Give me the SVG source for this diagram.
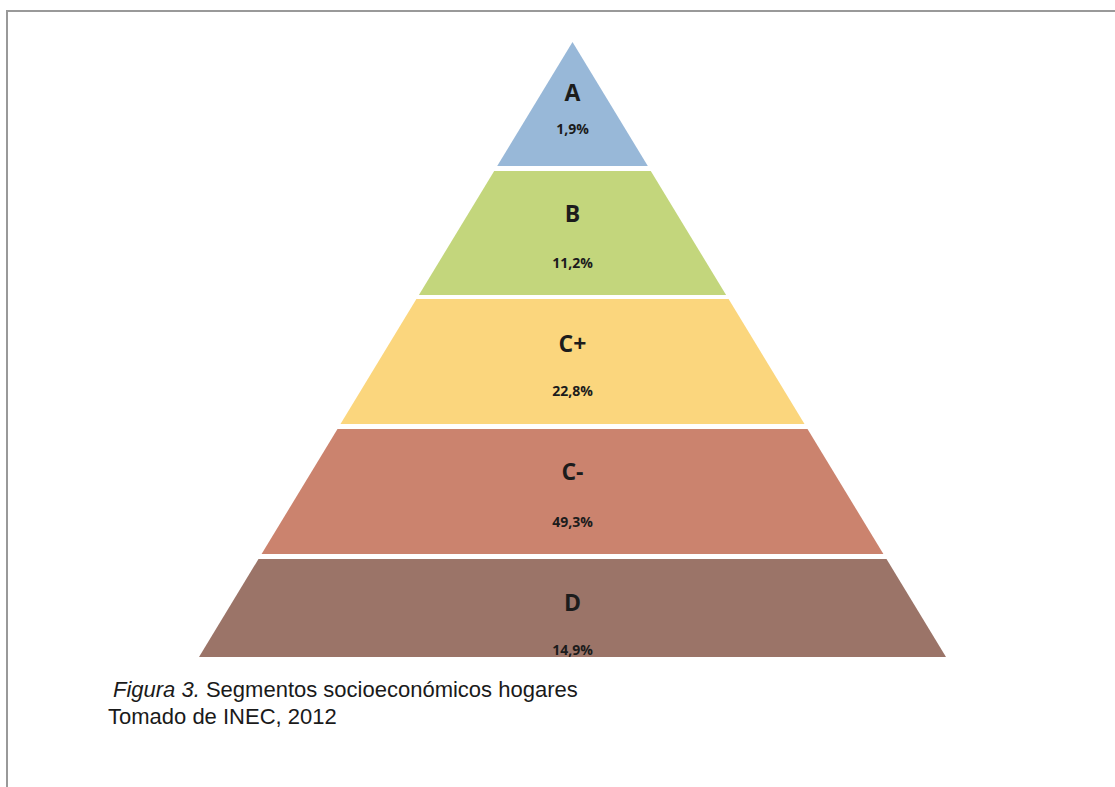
<svg xmlns="http://www.w3.org/2000/svg" width="1115" height="787" viewBox="0 0 1115 787">
<style>
.lbl{font-family:"Open Sans","Liberation Sans",sans-serif;font-weight:bold;fill:#1c1c1c;text-anchor:middle}
.big{font-size:23px}
.pct{font-size:14px}
.cap{font-family:"Liberation Sans",Arial,sans-serif;font-size:22px;fill:#1a1a1a}
</style>
<rect width="1115" height="787" fill="#ffffff"/>
<path d="M7,787 V11 H1115" fill="none" stroke="#999999" stroke-width="2"/>
<g id="band-A">
<polygon points="572.5,42 647.8,166 497.2,166" fill="#98b8d8"/>
<text class="lbl big" x="572.5" y="101">A</text>
<text class="lbl pct" x="572.5" y="134">1,9%</text>
</g>
<g id="band-B">
<polygon points="494.2,171 650.8,171 726.1,295 418.9,295" fill="#c3d67c"/>
<text class="lbl big" x="572.5" y="222">B</text>
<text class="lbl pct" x="572.5" y="268">11,2%</text>
</g>
<g id="band-Cplus">
<polygon points="416.4,299 728.6,299 804.5,424 340.5,424" fill="#fbd67d"/>
<text class="lbl big" x="572.5" y="352">C+</text>
<text class="lbl pct" x="572.5" y="396">22,8%</text>
</g>
<g id="band-Cminus">
<polygon points="337.5,429 807.5,429 883.4,554 261.6,554" fill="#cb836e"/>
<text class="lbl big" x="572.5" y="480">C-</text>
<text class="lbl pct" x="572.5" y="527">49,3%</text>
</g>
<g id="band-D">
<polygon points="258.5,559 886.5,559 946,657 199,657" fill="#9b7468"/>
<text class="lbl big" x="572.5" y="611">D</text>
<text class="lbl pct" x="572.5" y="655">14,9%</text>
</g>
<g id="caption">
<text class="cap" x="113" y="697"><tspan font-style="italic">Figura 3.</tspan> Segmentos socioeconómicos hogares</text>
<text class="cap" x="108" y="724">Tomado de INEC, 2012</text>
</g>
</svg>
